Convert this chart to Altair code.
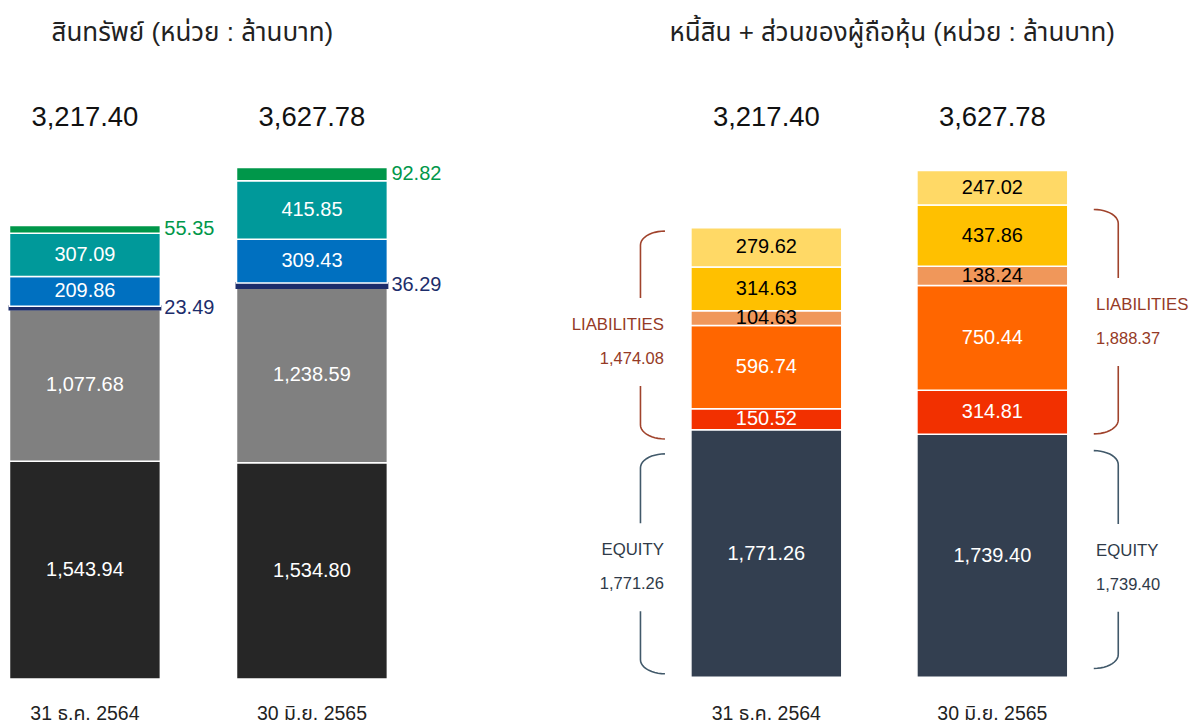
import altair as alt
import pandas as pd
import numpy as np

FONT = "Liberation Sans, Arial, Noto Sans Thai, sans-serif"

# ---------------- data ----------------
dates = ["31 ธ.ค. 2564", "30 มิ.ย. 2565"]

asset_keys = ["a1", "a2", "a3", "a4", "a5", "a6"]          # bottom -> top
asset_colors = ["#262626", "#808080", "#1c2d6b", "#0070c0", "#00999a", "#00974a"]
asset_text = ["white", "white", "#1c2d6b", "white", "white", "#00974a"]
asset_inside = [True, True, False, True, True, False]
assets_dec = [1543.94, 1077.68, 23.49, 209.86, 307.09, 55.35]
assets_jun = [1534.80, 1238.59, 36.29, 309.43, 415.85, 92.82]
asset_totals = [3217.40, 3627.78]

le_keys = ["equity", "l1", "l2", "l3", "l4", "l5"]          # bottom -> top
le_colors = ["#333f50", "#f23000", "#ff6600", "#f0975a", "#ffc000", "#ffd966"]
le_text = ["white", "white", "white", "black", "black", "black"]
le_dec = [1771.26, 150.52, 596.74, 104.63, 314.63, 279.62]
le_jun = [1739.40, 314.81, 750.44, 138.24, 437.86, 247.02]
le_totals = [3217.40, 3627.78]

liab_labels = [1474.08, 1888.37]
equity_labels = [1771.26, 1739.40]
# brace extents and label centres (value units)
liab_brace = [(1706, 3194), (1742, 3349)]
equity_brace = [(25, 1599), (63, 1622)]
liab_label_at = [2400, 2543]
equity_label_at = [787, 783]

title_left = "สินทรัพย์ (หน่วย : ล้านบาท)"
title_right = "หนี้สิน + ส่วนของผู้ถือหุ้น (หน่วย : ล้านบาท)"

# ---------------- layout constants ----------------
H = 717
WL, WR, GAP = 470, 649, 62
XU_L, XU_R = 227.2, 226.2          # px per slot unit
YU_L, YU_R = 0.1411, 0.1398        # px per value unit
xdom_L = [-76 / XU_L, (WL - 76) / XU_L]
xdom_R = [-226 / XU_R, (WR - 226) / XU_R]
ydom_L = [-(H - 671.3) / YU_L, 671.3 / YU_L]
ydom_R = [-(H - 669.5) / YU_R, 669.5 / YU_R]
HW_L = 75.5 / XU_L
HW_R = 75.5 / XU_R


def fmt(v):
    return f"{v:,.2f}"


def seg_frame(keys, colors, series, text_colors, inside, stroke_colors):
    rows = []
    for s, vals in enumerate(series):
        for i, k in enumerate(keys):
            rows.append(dict(slot=s, key=k, idx=i, value=vals[i], label=fmt(vals[i]),
                             fc=colors[i], tc=text_colors[i], inside=inside[i],
                             sc=stroke_colors[i],
                             sw=2.0 if stroke_colors[i] != "white" else 1.5))
    return pd.DataFrame(rows)


def panel(df, hw, xdom, ydom, width, totals, title, title_x):
    xs = alt.Scale(domain=xdom, nice=False, zero=False)
    ys = alt.Scale(domain=ydom, nice=False, zero=False)
    base = (alt.Chart(df)
            .transform_stack(stack="value", as_=["y0", "y1"], groupby=["slot"],
                             sort=[alt.SortField("idx", order="ascending")])
            .transform_calculate(mid="(datum.y0 + datum.y1) / 2",
                                 x0=f"datum.slot - {hw}", x1=f"datum.slot + {hw}"))
    bars = base.mark_rect().encode(
        x=alt.X("x0:Q", scale=xs, axis=None), x2="x1:Q",
        y=alt.Y("y0:Q", scale=ys, axis=None), y2="y1:Q",
        fill=alt.Fill("fc:N", scale=None),
        stroke=alt.Stroke("sc:N", scale=None),
        strokeWidth=alt.StrokeWidth("sw:Q", scale=None),
        order=alt.Order("idx:Q"),
    )
    inside = base.transform_filter("datum.inside").mark_text(
        font=FONT, fontSize=20, baseline="middle").encode(
        x=alt.X("slot:Q", scale=xs, axis=None),
        y=alt.Y("mid:Q", scale=ys, axis=None),
        text="label:N", color=alt.Color("tc:N", scale=None))
    outside = base.transform_filter("!datum.inside").mark_text(
        font=FONT, fontSize=20, baseline="middle", align="left", dx=4).encode(
        x=alt.X("x1:Q", scale=xs, axis=None),
        y=alt.Y("mid:Q", scale=ys, axis=None),
        text="label:N", color=alt.Color("tc:N", scale=None))
    tdf = pd.DataFrame(dict(slot=[0, 1], total=[fmt(t) for t in totals], date=dates))
    tot = alt.Chart(tdf).mark_text(font=FONT, fontSize=27.5, color="#111", baseline="middle").encode(
        x=alt.X("slot:Q", scale=xs, axis=None), y=alt.value(110), text="total:N")
    dlab = alt.Chart(tdf).mark_text(font=FONT, fontSize=19.5, color="#222", baseline="middle").encode(
        x=alt.X("slot:Q", scale=xs, axis=None), y=alt.value(706), text="date:N")
    ttl = alt.Chart(pd.DataFrame(dict(t=[title]))).mark_text(
        font=FONT, fontSize=26, color="#222", baseline="middle").encode(
        x=alt.value(title_x), y=alt.value(25), text="t:N")
    return alt.layer(bars, inside, outside, tot, dlab, ttl).properties(width=width, height=H)


left_df = seg_frame(asset_keys, asset_colors, [assets_dec, assets_jun], asset_text, asset_inside,
                    ["white", "white", "#1c2d6b", "white", "white", "white"])
right_df = seg_frame(le_keys, le_colors, [le_dec, le_jun], le_text, [True] * 6, ["white"] * 6)

left = panel(left_df, HW_L, xdom_L, ydom_L, WL, asset_totals, title_left, 183.5)
right = panel(right_df, HW_R, xdom_R, ydom_R, WR, le_totals, title_right, 352)

# ---------------- braces (decoration) on the right panel ----------------
LIAB_LINE, LIAB_TEXT = "#a0432c", "#953a26"
EQ_LINE, EQ_TEXT = "#41596a", "#2f3a48"
RX, RY, GAPPX = 24.5, 14.0, 44.0
pts = []
phi = np.linspace(0, np.pi / 2, 12)


def add_brace(bid, slot, side, lo, hi, c, colr):
    sgn = -1 if side == "left" else 1
    xv = slot + sgn * 126 / XU_R
    xt = slot + sgn * (126 - RX) / XU_R
    ry = RY / YU_R
    g = GAPPX / YU_R
    o = 0
    for p in phi:
        pts.append(dict(part=f"{bid}t", o=o, bx=xt + (xv - xt) * np.sin(p),
                        by=hi - ry * (1 - np.cos(p)), bc=colr)); o += 1
    pts.append(dict(part=f"{bid}t", o=o, bx=xv, by=c + g, bc=colr))
    o = 0
    pts.append(dict(part=f"{bid}b", o=o, bx=xv, by=c - g, bc=colr)); o += 1
    for p in phi[::-1]:
        pts.append(dict(part=f"{bid}b", o=o, bx=xt + (xv - xt) * np.sin(p),
                        by=lo + ry * (1 - np.cos(p)), bc=colr)); o += 1


add_brace("L0", 0, "left", liab_brace[0][0], liab_brace[0][1], liab_label_at[0], LIAB_LINE)
add_brace("E0", 0, "left", equity_brace[0][0], equity_brace[0][1], equity_label_at[0], EQ_LINE)
add_brace("L1", 1, "right", liab_brace[1][0], liab_brace[1][1], liab_label_at[1], LIAB_LINE)
add_brace("E1", 1, "right", equity_brace[1][0], equity_brace[1][1], equity_label_at[1], EQ_LINE)
brace_df = pd.DataFrame(pts)

xsR = alt.Scale(domain=xdom_R, nice=False, zero=False)
ysR = alt.Scale(domain=ydom_R, nice=False, zero=False)
braces = alt.Chart(brace_df).mark_line(strokeWidth=1.6).encode(
    x=alt.X("bx:Q", scale=xsR, axis=None), y=alt.Y("by:Q", scale=ysR, axis=None),
    detail="part:N", order="o:Q", color=alt.Color("bc:N", scale=None))

lab_rows = []
for s in range(2):
    xpos = (s - 102.5 / XU_R) if s == 0 else (s + 103.8 / XU_R)
    lab_rows.append(dict(slot=s, lx=xpos, ly=liab_label_at[s], name="LIABILITIES",
                         num=fmt(liab_labels[s]), c=LIAB_TEXT))
    lab_rows.append(dict(slot=s, lx=xpos, ly=equity_label_at[s], name="EQUITY",
                         num=fmt(equity_labels[s]), c=EQ_TEXT))
lab_df = pd.DataFrame(lab_rows)


def side_labels(align, cond):
    b = alt.Chart(lab_df).transform_filter(cond)
    enc = dict(x=alt.X("lx:Q", scale=xsR, axis=None), y=alt.Y("ly:Q", scale=ysR, axis=None),
               color=alt.Color("c:N", scale=None))
    n1 = b.mark_text(font=FONT, fontSize=16.8, align=align, baseline="middle", dy=-17).encode(
        text="name:N", **enc)
    n2 = b.mark_text(font=FONT, fontSize=16.5, align=align, baseline="middle", dy=17).encode(
        text="num:N", **enc)
    return n1 + n2


right = alt.layer(right, braces, side_labels("right", "datum.slot == 0"),
                  side_labels("left", "datum.slot == 1"))

chart = (alt.hconcat(left, right, spacing=GAP)
         .properties(padding=0, bounds="flush", background="white")
         .configure_view(stroke=None))

chart.save("out.html", embed_options={"renderer": "svg", "actions": False})
